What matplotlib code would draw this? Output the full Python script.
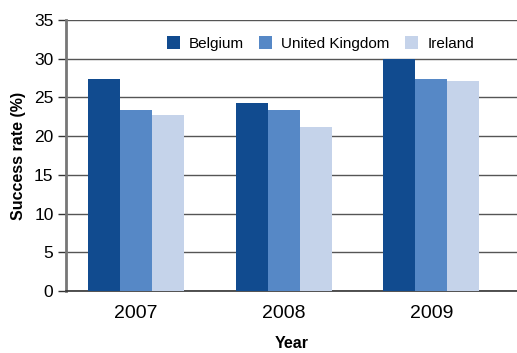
import matplotlib
matplotlib.use("Agg")
import matplotlib.pyplot as plt
import numpy as np

plt.rcParams["font.family"] = ["Liberation Sans Narrow", "Liberation Sans", "DejaVu Sans"]

YEARS = ["2007", "2008", "2009"]
COUNTRIES = ["Belgium", "United Kingdom", "Ireland"]
BELGIUM = [27.4, 24.3, 30.0]
UNITED_KINGDOM = [23.4, 23.4, 27.4]
IRELAND = [22.7, 21.2, 27.1]
COLORS = ["#114b8f", "#5688c6", "#c5d3ea"]

W, H = 517, 353
fig = plt.figure(figsize=(W / 100, H / 100), dpi=100)
ax = fig.add_axes([66 / W, (H - 291) / H, (W - 66) / W, (291 - 20) / H])

x = np.arange(len(YEARS))
width = 0.217
for i, (name, vals) in enumerate(zip(COUNTRIES, [BELGIUM, UNITED_KINGDOM, IRELAND])):
    ax.bar(x + (i - 1) * width, vals, width=width, color=COLORS[i], label=name, zorder=3)

ax.set_xlim(-0.475, 2.58)
ax.set_ylim(0, 35)
ax.set_yticks(range(0, 36, 5))
ax.set_xticks(x)
ax.set_xticklabels(YEARS)
ax.grid(axis="y", color="#555555", linewidth=1.0, zorder=0)

for s in ["top", "right"]:
    ax.spines[s].set_visible(False)
ax.spines["left"].set_color("#777777")
ax.spines["left"].set_linewidth(2)
ax.spines["bottom"].set_color("#333333")
ax.spines["bottom"].set_linewidth(1.2)

ax.tick_params(axis="y", length=6, width=1, color="#333333", labelsize=12.5, pad=3)
ax.tick_params(axis="x", length=0, labelsize=14, pad=10)

ax.set_ylabel("Success rate (%)", fontsize=11.5, fontweight="bold", labelpad=6)
ax.set_xlabel("Year", fontsize=11.5, fontweight="bold", labelpad=10)

ax.legend(loc="upper right", bbox_to_anchor=(0.935, 0.99), ncol=3, frameon=False,
          fontsize=11, handlelength=0.85, handleheight=0.85, handletextpad=0.6,
          columnspacing=1.0)

fig.savefig("out.png", dpi=100)
